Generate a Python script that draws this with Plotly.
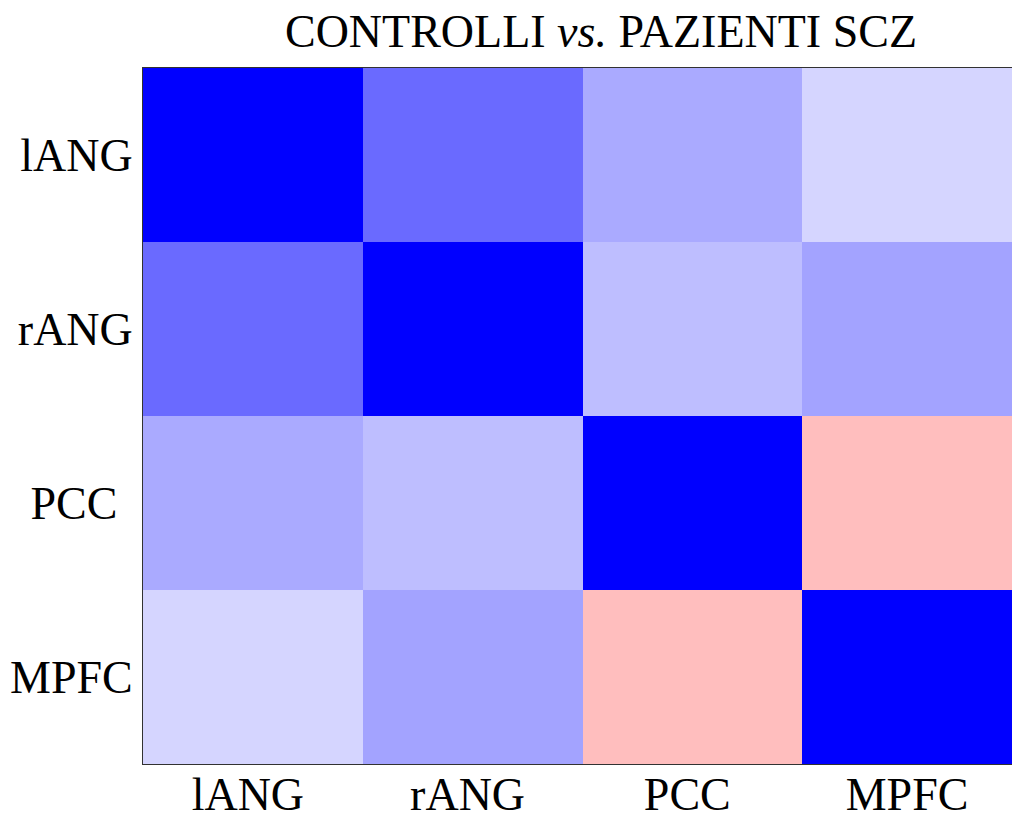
import plotly.graph_objects as go

regions = ["lANG", "rANG", "PCC", "MPFC"]
x_tick_labels = ["lANG", "rANG", "PCC", "MPFC"]
y_tick_labels = ["lANG", "rANG", "PCC\u2004", "MPFC"]
row_lANG = [1.0, 0.584, 0.333, 0.165]
row_rANG = [0.584, 1.0, 0.255, 0.36]
row_PCC = [0.333, 0.255, 1.0, -0.255]
row_MPFC = [0.165, 0.36, -0.255, 1.0]
z = [row_lANG, row_rANG, row_PCC, row_MPFC]

FONT = "Liberation Serif, Times New Roman, serif"

fig = go.Figure(go.Heatmap(
    z=z, x=regions, y=regions,
    zmin=-1, zmax=1,
    colorscale=[[0, "rgb(255,0,0)"], [0.5, "rgb(255,255,255)"], [1, "rgb(0,0,255)"]],
    showscale=False,
))

fig.update_layout(
    width=1012, height=814,
    margin=dict(l=143, r=0, t=68, b=50),
    paper_bgcolor="white", plot_bgcolor="white",
    title=dict(text="CONTROLLI <i>vs.</i> PAZIENTI SCZ",
               font=dict(family=FONT, size=46, color="black"),
               x=601 / 1012, xref="container", xanchor="center",
               y=1 - 31 / 814, yref="container", yanchor="middle"),
    font=dict(family=FONT, color="black"),
)
fig.update_xaxes(range=[-0.5, 3.455], showline=True, mirror=True, linecolor="rgb(50,50,50)", linewidth=1,
                 tickmode="array", tickvals=regions, ticktext=x_tick_labels,
                 tickfont=dict(family=FONT, size=46, color="black"), ticks="", showgrid=False, zeroline=False,
                 automargin=False, ticklabelstandoff=-10, ticklabelshift=-5)
fig.update_yaxes(autorange="reversed", showline=True, mirror=False, linecolor="rgb(50,50,50)", linewidth=1,
                 tickmode="array", tickvals=regions, ticktext=y_tick_labels,
                 tickfont=dict(family=FONT, size=46, color="black"), ticks="", showgrid=False, zeroline=False,
                 automargin=False)

fig.write_html("out.html")
